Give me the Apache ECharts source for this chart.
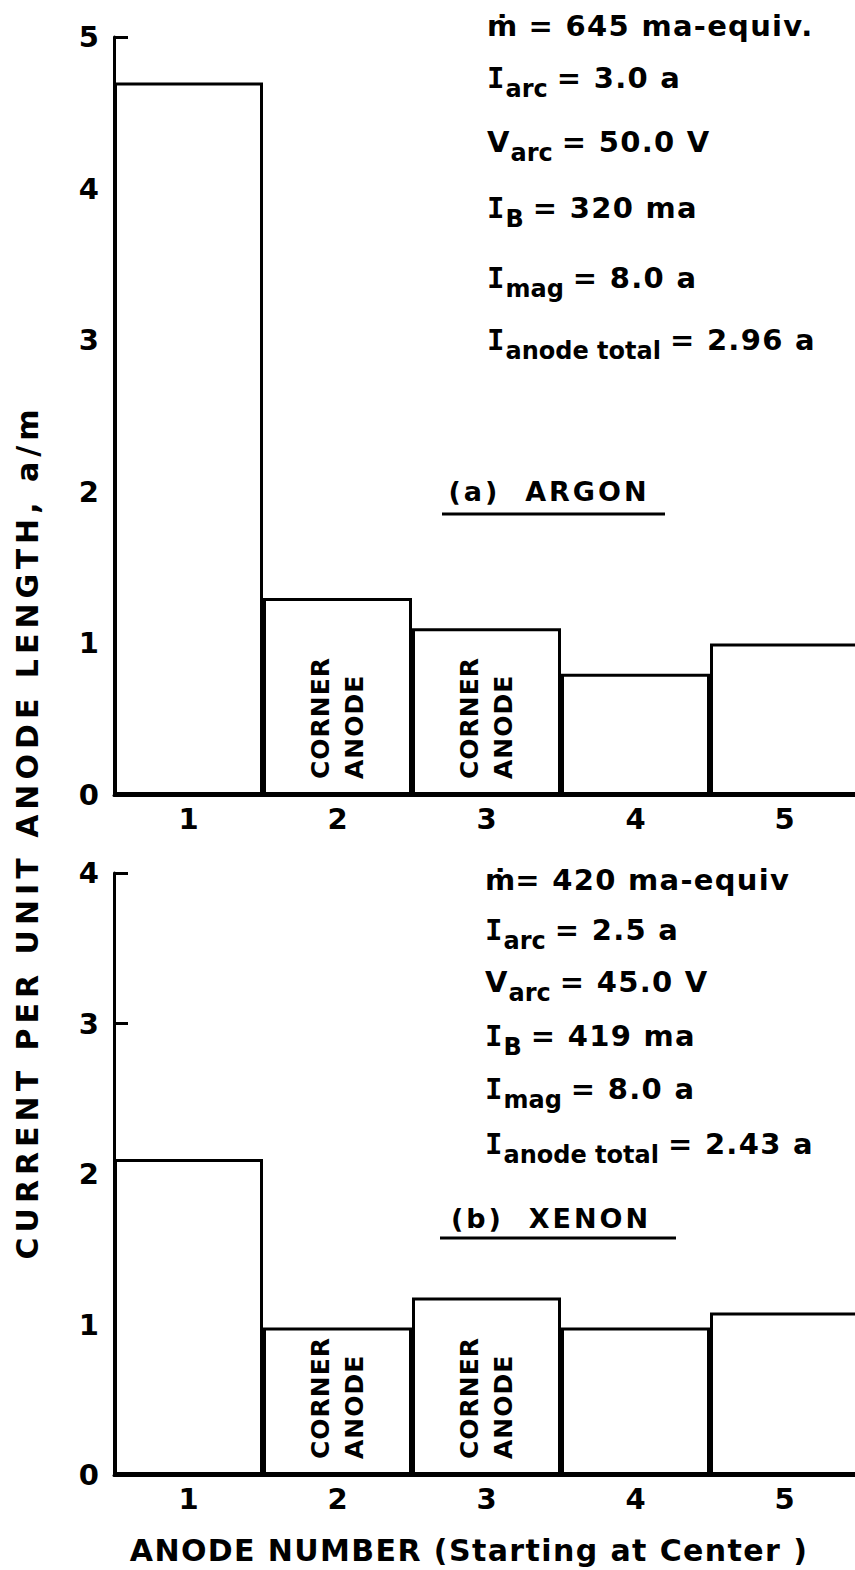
<!DOCTYPE html>
<html>
<head>
<meta charset="utf-8">
<script src="https://cdn.jsdelivr.net/npm/echarts@6.0.0/dist/echarts.min.js"></script>
<style>
html,body{margin:0;padding:0;background:#fff;}
#c{width:855px;height:1570px;}
</style>
</head>
<body>
<div id="c"></div>
<script>
// ---- data ----
const categories = ['1', '2', '3', '4', '5'];
const argonValues = [4.70, 1.30, 1.10, 0.80, 1.00];
const xenonValues = [2.10, 0.98, 1.18, 0.98, 1.08];
const barNotes = ['', 'CORNER\nANODE', 'CORNER\nANODE', '', ''];
const argonTicks = [0, 1, 2, 3, 4, 5];
const xenonTicks = [0, 1, 2, 3, 4];
const argonConditions = [
  ['ṁ', '', ' = 645 ma-equiv.'],
  ['I', 'arc', '= 3.0 a'],
  ['V', 'arc', '= 50.0 V'],
  ['I', 'B', '= 320 ma'],
  ['I', 'mag', '= 8.0 a'],
  ['I', 'anode total', '= 2.96 a']
];
const xenonConditions = [
  ['ṁ', '', '= 420 ma-equiv'],
  ['I', 'arc', '= 2.5 a'],
  ['V', 'arc', '= 45.0 V'],
  ['I', 'B', '= 419 ma'],
  ['I', 'mag', '= 8.0 a'],
  ['I', 'anode total', '= 2.43 a']
];
const argonTitle = '(a)  ARGON';
const xenonTitle = '(b)  XENON';
const yTitle = 'CURRENT PER UNIT ANODE LENGTH, a/m';
const xTitle = 'ANODE NUMBER (Starting at Center )';

// ---- styling ----
const F = "'DejaVu Sans', sans-serif";
const INK = '#000';

function axisPair(gridIndex, max, ticks) {
  return {
    x: {
      gridIndex: gridIndex, type: 'category', data: categories,
      boundaryGap: true,
      axisLine: { show: true, lineStyle: { color: INK, width: 3 } },
      axisTick: { show: false },
      axisLabel: { fontSize: 29, fontWeight: 'bold', color: INK, margin: 9, fontFamily: F },
      splitLine: { show: false }
    },
    y: {
      gridIndex: gridIndex, type: 'value', min: 0, max: max, interval: 1,
      axisLine: { show: true, lineStyle: { color: INK, width: 3 } },
      axisTick: { show: true, inside: true, length: 14, lineStyle: { color: INK, width: 3 }, customValues: ticks },
      axisLabel: { fontSize: 29, fontWeight: 'bold', color: INK, margin: 15, fontFamily: F, customValues: ticks },
      splitLine: { show: false }
    }
  };
}
const a0 = axisPair(0, 5, argonTicks);
const a1 = axisPair(1, 4, xenonTicks);

function barSeries(idx, values) {
  return {
    type: 'bar', xAxisIndex: idx, yAxisIndex: idx, data: values,
    barCategoryGap: '0%',
    itemStyle: { color: '#fff', borderColor: INK, borderWidth: 3 },
    label: {
      show: true, position: 'insideBottom', rotate: 90, align: 'left', verticalAlign: 'middle',
      distance: 16, fontSize: 25, fontWeight: 'bold', lineHeight: 34, color: INK, fontFamily: F,
      formatter: p => barNotes[p.dataIndex]
    },
    emphasis: { disabled: true },
    silent: true
  };
}

const rich = {
  m: { fontSize: 29, fontWeight: 'bold', fontFamily: F, fill: INK, color: INK, verticalAlign: 'top' },
  i: { fontSize: 29, fontWeight: 'bold', fontFamily: "'DejaVu Sans Mono', monospace", fill: INK, color: INK, verticalAlign: 'top' },
  s: { fontSize: 24, fontWeight: 'bold', fontFamily: F, fill: INK, color: INK, verticalAlign: 'top', padding: [13, 9, 0, 1] }
};
function condText(c) {
  const sym = c[0], sub = c[1], rest = c[2];
  let t = (sym === 'I' ? '{i|I}' : '{m|' + sym + '}');
  if (sub) t += '{s|' + sub + '}';
  t += '{m|' + rest + '}';
  return t;
}
function condGraphics(conds, x, centers) {
  return conds.map((c, k) => ({
    type: 'text', x: x, y: centers[k] - 14.5,
    style: { text: condText(c), rich: rich, align: 'left', verticalAlign: 'top', fill: INK, font: 'bold 29px ' + F }
  }));
}

const graphics = []
  .concat(condGraphics(argonConditions, 487, [26, 78, 142, 208, 278, 340]))
  .concat(condGraphics(xenonConditions, 485, [880, 930, 982, 1036, 1089, 1144]))
  .concat([
    { type: 'text', x: 549, y: 491, style: { text: argonTitle, fontSize: 27, fontWeight: 'bold', fontFamily: F, fill: INK, align: 'center', verticalAlign: 'middle' } },
    { type: 'line', shape: { x1: 442, y1: 514, x2: 665, y2: 514 }, style: { stroke: INK, lineWidth: 3 } },
    { type: 'text', x: 551, y: 1218, style: { text: xenonTitle, fontSize: 27, fontWeight: 'bold', fontFamily: F, fill: INK, align: 'center', verticalAlign: 'middle' } },
    { type: 'line', shape: { x1: 440, y1: 1238, x2: 676, y2: 1238 }, style: { stroke: INK, lineWidth: 3 } },
    { type: 'text', x: 27, y: 832, rotation: Math.PI / 2, style: { text: yTitle, fontSize: 30, fontWeight: 'bold', fontFamily: F, fill: INK, align: 'center', verticalAlign: 'middle' } },
    { type: 'text', x: 469, y: 1550, style: { text: xTitle, fontSize: 30, fontWeight: 'bold', fontFamily: F, fill: INK, align: 'center', verticalAlign: 'middle' } }
  ]);

const chart = echarts.init(document.getElementById('c'), null, { renderer: 'svg', width: 855, height: 1570 });
chart.setOption({
  animation: false,
  backgroundColor: '#fff',
  textStyle: { fontFamily: F, color: INK },
  grid: [
    { left: 114, top: 37, width: 745, height: 758, containLabel: false, outerBoundsMode: 'none' },
    { left: 114, top: 873, width: 745, height: 602, containLabel: false, outerBoundsMode: 'none' }
  ],
  xAxis: [a0.x, a1.x],
  yAxis: [a0.y, a1.y],
  series: [barSeries(0, argonValues), barSeries(1, xenonValues)],
  graphic: graphics
});

function applySpacing() {
  document.querySelectorAll('#c svg text').forEach(t => {
    const s = t.textContent || '';
    let ls = 0;
    if (s.indexOf('CURRENT') === 0) ls = 5;
    else if (s.indexOf('ANODE NUMBER') === 0) ls = 1.4;
    else if (s.indexOf('ARGON') >= 0 || s.indexOf('XENON') >= 0) ls = 3;
    else if (s === 'CORNER' || s === 'ANODE') ls = 1;
    else if (s.indexOf('=') >= 0) ls = 1.3;
    if (ls) t.setAttribute('letter-spacing', ls);
  });
}
applySpacing();
chart.on('finished', applySpacing);
setTimeout(applySpacing, 50);
</script>
</body>
</html>
